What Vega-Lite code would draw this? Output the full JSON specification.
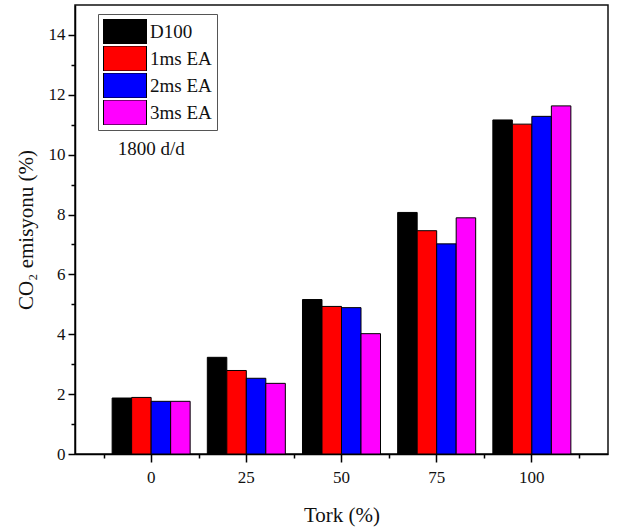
{
  "$schema": "https://vega.github.io/schema/vega-lite/v6.json",
  "width": 533,
  "height": 449,
  "autosize": {"type": "none"},
  "padding": {"left": 75, "top": 5, "right": 9, "bottom": 77},
  "config": {
    "font": "Liberation Serif",
    "view": {"stroke": "#111", "strokeWidth": 1.5},
    "axis": {"labelFont": "Liberation Serif", "titleFont": "Liberation Serif", "labelColor": "#111", "titleColor": "#111", "domainColor": "#000", "tickColor": "#000", "titleFontWeight": "normal", "grid": false}
  },
  "datasets": {
    "co2": [
      {"tork": 0, "seri": "D100", "co2": 1.87},
      {"tork": 0, "seri": "1ms EA", "co2": 1.89},
      {"tork": 0, "seri": "2ms EA", "co2": 1.76},
      {"tork": 0, "seri": "3ms EA", "co2": 1.76},
      {"tork": 25, "seri": "D100", "co2": 3.23},
      {"tork": 25, "seri": "1ms EA", "co2": 2.79},
      {"tork": 25, "seri": "2ms EA", "co2": 2.53},
      {"tork": 25, "seri": "3ms EA", "co2": 2.36},
      {"tork": 50, "seri": "D100", "co2": 5.16},
      {"tork": 50, "seri": "1ms EA", "co2": 4.93},
      {"tork": 50, "seri": "2ms EA", "co2": 4.89},
      {"tork": 50, "seri": "3ms EA", "co2": 4.02},
      {"tork": 75, "seri": "D100", "co2": 8.07},
      {"tork": 75, "seri": "1ms EA", "co2": 7.46},
      {"tork": 75, "seri": "2ms EA", "co2": 7.02},
      {"tork": 75, "seri": "3ms EA", "co2": 7.89},
      {"tork": 100, "seri": "D100", "co2": 11.16},
      {"tork": 100, "seri": "1ms EA", "co2": 11.02},
      {"tork": 100, "seri": "2ms EA", "co2": 11.28},
      {"tork": 100, "seri": "3ms EA", "co2": 11.63}
    ],
    "note": [{"t": "1800 d/d"}]
  },
  "layer": [
    {
      "data": {"name": "co2"},
      "mark": {"type": "bar", "stroke": "#000", "strokeWidth": 1},
      "encoding": {
        "x": {
          "field": "tork", "type": "ordinal",
          "scale": {"paddingInner": 0, "paddingOuter": 0.3},
          "axis": {"orient": "bottom", "labelAngle": 0, "tickSize": 8, "tickWidth": 1.5, "domainWidth": 1.5, "labelFontSize": 17, "labelPadding": 7, "title": "Tork (%)", "titleFontSize": 21, "titlePadding": 19}
        },
        "xOffset": {
          "field": "seri", "type": "nominal",
          "scale": {"domain": ["D100", "1ms EA", "2ms EA", "3ms EA"], "paddingInner": 0, "paddingOuter": 0.44}
        },
        "y": {
          "field": "co2", "type": "quantitative",
          "scale": {"domain": [0, 15], "nice": false},
          "axis": {"orient": "left", "values": [0, 2, 4, 6, 8, 10, 12, 14], "tickSize": 7, "tickWidth": 1.5, "domainWidth": 1.5, "labelFontSize": 17, "labelPadding": 3, "title": "CO₂ emisyonu (%)", "titleFontSize": 21, "titlePadding": 12}
        },
        "color": {
          "field": "seri", "type": "nominal",
          "scale": {"domain": ["D100", "1ms EA", "2ms EA", "3ms EA"], "range": ["#000000", "#ff0000", "#0000ff", "#ff00ff"]},
          "legend": {
            "orient": "none", "legendX": 23, "legendY": 9, "title": null,
            "strokeColor": "#555", "padding": 5,
            "symbolType": "M-1,-0.58H1V0.58H-1Z", "symbolSize": 1849,
            "symbolStrokeColor": "#000", "symbolStrokeWidth": 1, "symbolOpacity": 1,
            "clipHeight": 25, "rowPadding": 2, "labelOffset": 3,
            "labelFont": "Liberation Serif", "labelFontSize": 19, "labelColor": "#111"
          }
        }
      }
    },
    {
      "data": {"name": "co2"},
      "mark": {"type": "bar", "opacity": 0},
      "encoding": {
        "x": {
          "field": "tork", "type": "ordinal",
          "axis": {"orient": "bottom", "tickBand": "extent", "labels": false, "domain": false, "tickSize": 4, "tickWidth": 1.5, "title": null}
        },
        "y": {
          "field": "co2", "type": "quantitative",
          "axis": {"orient": "left", "values": [1, 3, 5, 7, 9, 11, 13], "labels": false, "domain": false, "tickSize": 4, "tickWidth": 1.5, "title": null}
        }
      }
    },
    {
      "data": {"name": "note"},
      "mark": {"type": "text", "font": "Liberation Serif", "fontSize": 19, "align": "center", "baseline": "alphabetic", "color": "#111"},
      "encoding": {
        "x": {"datum": 0, "type": "ordinal", "axis": null},
        "y": {"datum": 10, "type": "quantitative", "axis": null},
        "text": {"field": "t"}
      }
    }
  ],
  "resolve": {"axis": {"x": "independent", "y": "independent"}}
}
